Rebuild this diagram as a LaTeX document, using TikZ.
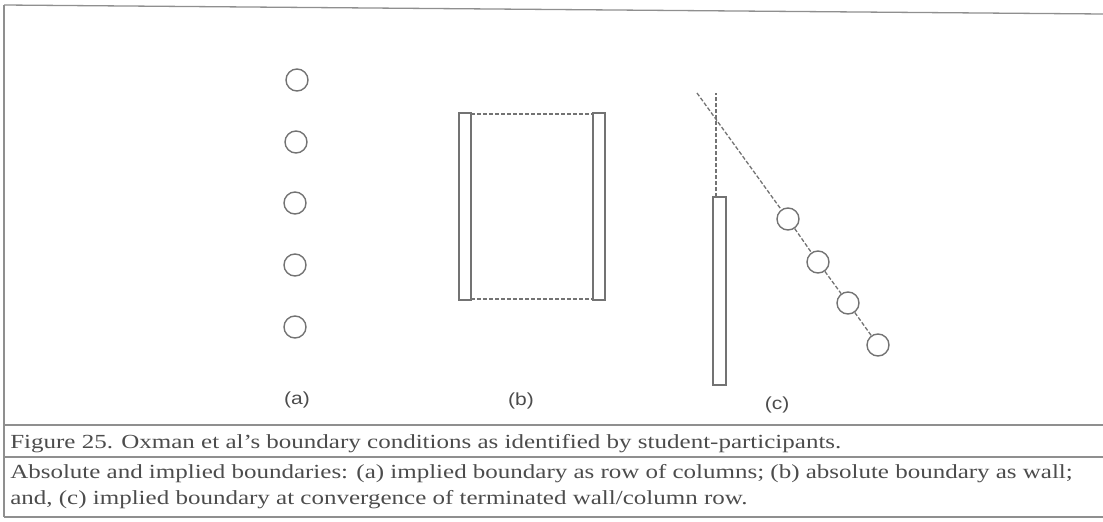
\documentclass[tikz,border=0pt]{standalone}
\usepackage{fontspec}
\setmainfont{Liberation Serif}
\newfontfamily\lsans{Liberation Sans}
\definecolor{ink}{gray}{0.45}
\definecolor{txt}{gray}{0.3}
\begin{document}
\begin{tikzpicture}[x=1pt,y=-1pt,
  wallbox/.style={draw=ink,line width=1.4pt},
  col/.style={circle,draw=ink,line width=1.4pt,minimum size=22pt,inner sep=0pt},
  impl/.style={draw=ink,line width=1.3pt,dash pattern=on 4pt off 2pt},
  frame/.style={draw=ink!80,line width=1.3pt},
  lab/.style={font=\lsans\fontsize{17.5}{20}\selectfont,text=txt,xscale=1.2,transform shape},
  captext/.style={font=\fontsize{20}{23}\selectfont,text=txt,anchor=base west,inner sep=0pt,xscale=1.25,transform shape}]
\useasboundingbox (0,0) rectangle (1103,522);
% frame
\draw[frame] (4,5) -- (1103,14);
\draw[frame] (4,5) -- (4,517);
\draw[frame] (4,425) -- (1103,425);
\draw[frame] (4,457) -- (1103,457);
\draw[frame] (4,517) -- (1103,517);
% (a) row of columns
\node[col] (a1) at (297,80) {};
\node[col] (a2) at (296,142) {};
\node[col] (a3) at (295,203) {};
\node[col] (a4) at (295,265) {};
\node[col] (a5) at (295,327) {};
\node[lab] (la) at (297,400) {(a)};
% (b) walls
\draw[wallbox] (459,113) rectangle (471,300);
\draw[wallbox] (593,113) rectangle (605,300);
\coordinate (bt1) at (471,114);
\coordinate (bt2) at (593,114);
\coordinate (bb1) at (471,299);
\coordinate (bb2) at (593,299);
\draw[impl] (bt1) -- (bt2);
\draw[impl] (bb1) -- (bb2);
\node[lab] (lb) at (521,401) {(b)};
% (c)
\draw[wallbox] (713,197) rectangle (726,385);
\coordinate (cw) at (716,197);
\coordinate (ctop) at (716,93);
\coordinate (cd) at (697,93);
\draw[impl] (cw) -- (ctop);
\node[col] (c1) at (788,219) {};
\node[col] (c2) at (818,262) {};
\node[col] (c3) at (848,303) {};
\node[col] (c4) at (878,345) {};
\draw[impl] (cd) -- (c1);
\draw[impl] (c1) -- (c2);
\draw[impl] (c2) -- (c3);
\draw[impl] (c3) -- (c4);
\node[lab] (lc) at (777,405) {(c)};
% captions
\node[captext] (t1) at (10,448) {Figure 25. Oxman et al's boundary conditions as identified by student-participants.};
\node[captext] (t2) at (10,478) {\makebox[850pt][s]{Absolute and implied boundaries: (a) implied boundary as row of columns; (b) absolute boundary as wall;}};
\node[captext] (t3) at (10,504) {and, (c) implied boundary at convergence of terminated wall/column row.};
\end{tikzpicture}
\end{document}
